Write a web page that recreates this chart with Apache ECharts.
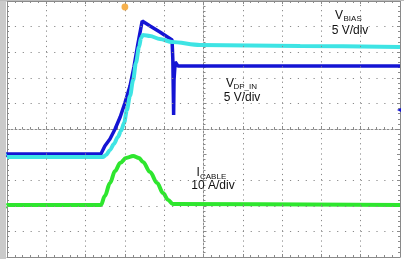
<!DOCTYPE html>
<html><head><meta charset="utf-8">
<script src="https://cdn.jsdelivr.net/npm/echarts@6/dist/echarts.min.js"></script>
<style>html,body{margin:0;padding:0;background:#fff}#c{width:404px;height:259px;background:#fff}#p{width:404px;height:259px;position:absolute;left:-2000px;top:0;visibility:hidden}</style>
</head><body><div id="c"></div><div id="p"></div>
<script>
// Time in screen divisions (10 div across), read from the capture
const vdpT   = [0, 2.39, 2.40, 2.49, 2.62, 2.75, 2.88, 3.00, 3.13, 3.23, 3.33, 3.44, 3.64, 3.89, 4.20, 4.22, 4.24, 4.25, 4.28, 4.35, 10];
const vdpV   = [0.12, 0.12, 0.51, 1.68, 3.05, 5.00, 7.34, 10.08, 13.40, 17.11, 21.60, 26.09, 25.12, 23.95, 22.38, 18.48, 7.73, 14.57, 18.09, 17.30, 17.30];
const vbiasT = [0, 2.44, 2.52, 2.62, 2.72, 2.82, 2.90, 2.98, 3.05, 3.13, 3.21, 3.28, 3.36, 3.41, 3.46, 3.64, 3.89, 4.20, 4.91, 7.46, 10];
const vbiasV = [-0.47, -0.47, -0.08, 0.90, 2.07, 3.44, 4.61, 6.17, 8.71, 11.45, 14.57, 17.89, 21.02, 22.77, 23.36, 23.16, 22.58, 21.99, 21.41, 21.21, 21.02];
const icableT = [0, 2.39, 2.49, 2.62, 2.75, 2.88, 3.03, 3.21, 3.36, 3.46, 3.64, 3.82, 3.97, 4.10, 4.22, 10];
const icableA = [0.31, 0.31, 3.83, 8.91, 13.60, 16.72, 18.67, 19.45, 18.67, 17.11, 13.20, 8.91, 5.00, 2.27, 0.70, 0.31];
const voltRange = [-20, 30];   // 5 V/div
const ampRange = [-20, 80];    // 10 A/div
const gridT = [1, 2, 3, 4, 6, 7, 8, 9];            // vertical graticule lines (div)
const gridV = [-15, -10, -5, 5, 10, 15, 20, 25];   // horizontal graticule lines (V)
const triggerT = 3.0;
const triggerLevelV = 8.7;

const BLUE = '#1414d4', CYAN = '#3ee4e4', GREEN = '#2ee62e';
const gridColor = '#8a8a8a', borderColor = '#8a8a8a';
const FONT = 'Liberation Sans, Arial, sans-serif';

function decoAxis(o) {
  return Object.assign({
    type: 'value', interval: 1,
    axisLabel: {show: false},
    splitLine: {show: false},
    axisTick: {show: true, inside: true, length: 3, lineStyle: {color: borderColor}},
    minorTick: {show: true, splitNumber: 5, length: 2, lineStyle: {color: borderColor}},
    axisLine: {show: true, onZero: false, lineStyle: {color: borderColor}}
  }, o);
}

const graticule = gridT.map(t => ({xAxis: t, lineStyle: {color: gridColor, width: 1, type: [1.2, 3.92]}}))
  .concat(gridV.map(v => ({yAxis: v, lineStyle: {color: gridColor, width: 1, type: [1.2, 6.66]}})));

const option = {
  animation: false,
  grid: {left: 7, right: 4, top: 1, bottom: 2},
  xAxis: [
    decoAxis({min: 0, max: 10, position: 'bottom'}),
    decoAxis({min: 0, max: 10, position: 'top'}),
    decoAxis({min: -5, max: 5, position: 'bottom',
      axisLine: {show: true, onZero: true, onZeroAxisIndex: 3, lineStyle: {color: borderColor, type: [2, 2]}}})
  ],
  yAxis: [
    decoAxis({min: voltRange[0], max: voltRange[1], interval: 5, position: 'left'}),
    {type: 'value', min: ampRange[0], max: ampRange[1], show: false},
    decoAxis({min: -5, max: 5, position: 'right'}),
    decoAxis({min: -5, max: 5, position: 'left',
      axisLine: {show: true, onZero: true, onZeroAxisIndex: 2, lineStyle: {color: borderColor, type: [2, 2]}}})
  ],
  series: [
    {type: 'line', name: 'graticule', xAxisIndex: 0, yAxisIndex: 0, z: 1, silent: true,
      data: [[0, voltRange[0]]], showSymbol: false, lineStyle: {opacity: 0},
      markLine: {silent: true, symbol: ['none', 'none'], label: {show: false}, animation: false,
        emphasis: {disabled: true}, data: graticule}},
    {type: 'line', name: 'VDP_IN', xAxisIndex: 0, yAxisIndex: 0, z: 3,
      data: vdpT.map((t, i) => [t, vdpV[i]]), showSymbol: false, smooth: false,
      lineStyle: {color: BLUE, width: 3.5}, itemStyle: {color: BLUE}},
    {type: 'line', name: 'VBIAS', xAxisIndex: 0, yAxisIndex: 0, z: 3,
      data: vbiasT.map((t, i) => [t, vbiasV[i]]), showSymbol: false, smooth: 0.3, smoothMonotone: 'x',
      lineStyle: {color: CYAN, width: 4}, itemStyle: {color: CYAN}},
    {type: 'line', name: 'ICABLE', xAxisIndex: 0, yAxisIndex: 1, z: 3,
      data: icableT.map((t, i) => [t, icableA[i]]), showSymbol: false, smooth: 0.35, smoothMonotone: 'x',
      lineStyle: {color: GREEN, width: 4}, itemStyle: {color: GREEN}}
  ]
};

// Probe chart: used only to read the library's scales for the annotations
const probe = echarts.init(document.getElementById('p'));
probe.setOption(option);
const gV = probe.convertToPixel({xAxisIndex: 0, yAxisIndex: 0}, [0, 0]);
const gA = probe.convertToPixel({xAxisIndex: 0, yAxisIndex: 1}, [0, 0]);
const trg = probe.convertToPixel({xAxisIndex: 0, yAxisIndex: 0}, [triggerT, voltRange[1]]);
const lvl = probe.convertToPixel({xAxisIndex: 0, yAxisIndex: 0}, [10, triggerLevelV]);
probe.dispose();

function txt(text, x, y, size, align) {
  return {type: 'text', x: x, y: y, z: 10, style: {text: text, fill: '#111', font: size + 'px ' + FONT,
    align: align || 'left', verticalAlign: 'middle'}};
}
function tag(py, fill, stroke, label) {
  return {type: 'group', z: 10, children: [
    {type: 'polygon', shape: {points: [[0, py - 4], [5, py - 4], [7.5, py], [5, py + 4], [0, py + 4]]},
      style: {fill: fill, stroke: stroke, lineWidth: 1}},
    {type: 'text', x: 3, y: py, style: {text: label, fill: '#115', font: '7px ' + FONT, align: 'center', verticalAlign: 'middle'}}
  ]};
}

option.graphic = [
  {type: 'rect', shape: {x: 0, y: 0, width: 6, height: 259}, style: {fill: '#cacaca'}, z: 5},
  {type: 'rect', shape: {x: 0, y: 0, width: 404, height: 1}, style: {fill: '#bdbdbd'}, z: 5},
  tag(gV[1], CYAN, BLUE, '2'),
  tag(gA[1], '#d8f7d8', GREEN, '3'),
  {type: 'circle', shape: {cx: trg[0], cy: 7, r: 3.4}, style: {fill: '#f6b04c'}, z: 10},
  {type: 'polygon', shape: {points: [[lvl[0] - 3, lvl[1]], [lvl[0] + 1, lvl[1] - 2], [lvl[0] + 1, lvl[1] + 2]]},
    style: {fill: BLUE}, z: 10},
  txt('V', 335, 16, 12), txt('BIAS', 343.5, 18.5, 8), txt('5 V/div', 350, 31, 12, 'center'),
  txt('V', 226, 83.5, 12), txt('DP_IN', 233.5, 86.5, 8), txt('5 V/div', 242, 98, 12, 'center'),
  txt('I', 196.5, 173, 12), txt('CABLE', 200, 176.5, 8), txt('10 A/div', 213, 186, 12, 'center')
];

const chart = echarts.init(document.getElementById('c'));
chart.setOption(option);
</script>
</body></html>
